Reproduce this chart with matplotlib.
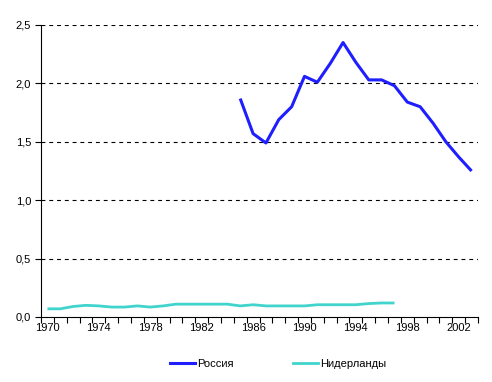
import numpy as np
import matplotlib
matplotlib.use("Agg")
from matplotlib import pyplot as plt
from matplotlib.lines import Line2D

plt.rcParams['font.family'] = ['Liberation Sans', 'DejaVu Sans']

years = list(range(1970, 2004))
russia_years = list(range(1985, 2004))
russia = [1.87, 1.57, 1.49, 1.69, 1.80, 2.06, 2.01, 2.17, 2.35, 2.18, 2.03, 2.03,
          1.98, 1.84, 1.80, 1.66, 1.50, 1.37, 1.25]
nl_years = list(range(1970, 1998))
nl = [0.07, 0.07, 0.09, 0.10, 0.095, 0.085, 0.085, 0.095, 0.085, 0.095,
      0.11, 0.11, 0.11, 0.11, 0.11, 0.095, 0.105, 0.095, 0.095, 0.095,
      0.095, 0.105, 0.105, 0.105, 0.105, 0.115, 0.12, 0.12]
ytick_labels = ["0,0", "0,5", "1,0", "1,5", "2,0", "2,5"]

fig = plt.figure(figsize=(4.92, 3.82), dpi=100)
ax = fig.add_axes([41/492, 1-317/382, (478-41)/492, (317-25)/382])

# категории: центр i+0.5
xr = [years.index(y) + 0.5 for y in russia_years]
xn = [years.index(y) + 0.5 for y in nl_years]
ax.plot(xn, nl, color="#40D4CC", lw=2.0, solid_capstyle="butt")
ax.plot(xr, russia, color="#1E1EFF", lw=2.2, solid_capstyle="butt")

ax.set_xlim(0, len(years))
ax.set_ylim(0, 2.5)
ax.set_yticks(np.arange(0, 2.51, 0.5))
ax.set_yticklabels(ytick_labels, fontsize=8)
for v in np.arange(0.5, 2.51, 0.5):
    ax.axhline(v, color="black", lw=0.8, ls=(0, (3.5, 3.5)), zorder=0)

ax.set_xticks(range(len(years) + 1))
ax.set_xticklabels([])
ax.set_xticks([i + 0.5 for i in range(0, len(years), 4)], minor=True)
ax.set_xticklabels([str(years[i]) for i in range(0, len(years), 4)], minor=True, fontsize=8)
ax.tick_params(axis="x", which="major", length=4, width=0.8, direction="out")
ax.tick_params(axis="x", which="minor", length=0, pad=4)
ax.tick_params(axis="y", length=4, width=0.8, pad=3)

for s in ["top", "right"]:
    ax.spines[s].set_visible(False)
ax.spines["left"].set_linewidth(0.8)
ax.spines["bottom"].set_linewidth(0.8)

handles = [Line2D([], [], color="#1E1EFF", lw=2.2), Line2D([], [], color="#40D4CC", lw=2.0)]
fig.legend(handles, ["Россия", "Нидерланды"], loc="center", bbox_to_anchor=(278/492, 1-364/382),
           ncol=2, frameon=False, fontsize=8, handlelength=2.25, handletextpad=0.2,
           columnspacing=5.3, borderaxespad=0, borderpad=0)

fig.savefig("out.png", dpi=100)
